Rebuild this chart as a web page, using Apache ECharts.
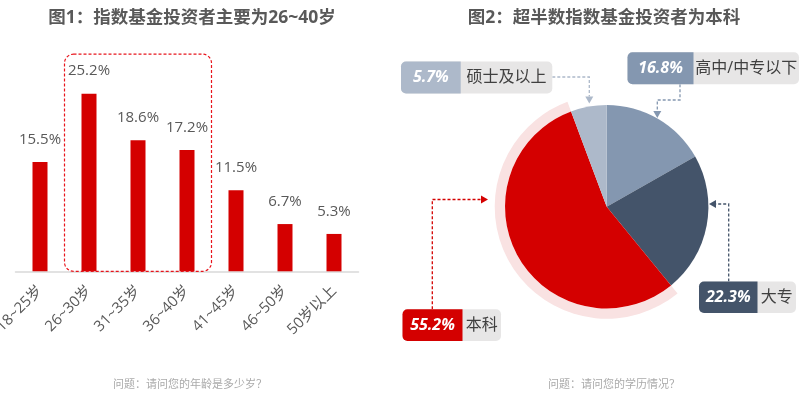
<!DOCTYPE html>
<html><head><meta charset="utf-8">
<script src="https://cdn.jsdelivr.net/npm/echarts@6/dist/echarts.min.js"></script>
<style>html,body{margin:0;padding:0;background:#fff}#c{width:804px;height:398px}</style>
</head><body><div id="c"></div>
<script>
// ---- data ----
const ageCategories = ['18~25岁','26~30岁','31~35岁','36~40岁','41~45岁','46~50岁','50岁以上'];
const ageValues = [15.5, 25.2, 18.6, 17.2, 11.5, 6.7, 5.3];
const highlightRange = [1, 3];           // 26~30 .. 36~40
const eduNames = ['高中/中专以下', '大专', '本科', '硕士及以上'];
const eduValues = [16.8, 22.3, 55.2, 5.7];
const titles = ['图1：指数基金投资者主要为26~40岁', '图2：超半数指数基金投资者为本科'];
const notes = ['问题：请问您的年龄是多少岁？', '问题：请问您的学历情况？'];

// ---- style ----
const RED = '#d40000';
const eduColors = ['#8497b0', '#44546a', RED, '#adb9ca'];
const FONT = "'Open Sans', 'Noto Sans CJK SC', sans-serif";
const pieCenter = [606.7, 206.7], pieR = 101.7;

// annotation layout (boxes + connectors) per education item
const annot = [
  {box:[627.5,52.3,171.5,32], split:66, line:[[680,84.3],[680,100],[657.3,100],[657.3,111]], tip:[657.3,118], dir:'down'},
  {box:[699,281.5,97,31.5], split:58.5, line:[[728.7,281.5],[728.7,204],[716,204]], tip:[709,204], dir:'left'},
  {box:[402.5,309.3,98.5,31.7], split:60, line:[[432.3,309.3],[432.3,199.5],[481,199.5]], tip:[488,199.5], dir:'right'},
  {box:[401,61.5,151.3,32], split:59.7, line:[[552.3,77],[589.3,77],[589.3,96.5]], tip:[589.3,103.5], dir:'down'}
];

const chart = echarts.init(document.getElementById('c'));

function arrowPts(t, d) {
  const [x, y] = t, L = 7, W = 4;
  if (d === 'down') return [[x, y], [x - W, y - L], [x + W, y - L]];
  if (d === 'left') return [[x, y], [x + L, y - W], [x + L, y + W]];
  return [[x, y], [x - L, y - W], [x - L, y + W]];
}

const annotGraphics = [];
eduNames.forEach((name, i) => {
  const a = annot[i], [bx, by, bw, bh] = a.box, col = eduColors[i];
  annotGraphics.push({type:'polyline', shape:{points:a.line}, style:{stroke:col, lineWidth:1.3, lineDash:[3,2], fill:null}, z:10});
  annotGraphics.push({type:'polygon', shape:{points:arrowPts(a.tip, a.dir)}, style:{fill:col}, z:10});
  annotGraphics.push({type:'rect', shape:{x:bx, y:by, width:bw, height:bh, r:5}, style:{fill:'#e7e6e6'}, z:10});
  annotGraphics.push({type:'rect', shape:{x:bx, y:by, width:a.split, height:bh, r:[5,0,0,5]}, style:{fill:col}, z:11});
  annotGraphics.push({type:'text', x:bx + a.split/2, y:by + bh/2, style:{text:eduValues[i].toFixed(1) + '%', fill:'#fff', fontStyle:'italic', fontWeight:'bold', fontSize:16, fontFamily:FONT, align:'center', verticalAlign:'middle'}, z:12});
  annotGraphics.push({type:'text', x:bx + a.split + (bw - a.split)/2, y:by + bh/2, style:{text:name, fill:'#404040', fontSize:16, fontFamily:FONT, align:'center', verticalAlign:'middle'}, z:12});
});

const option = {
  animation:false,
  backgroundColor:'#fff',
  title:[
    {text:titles[0], left:187, top:4, textAlign:'center', textStyle:{fontSize:17.5, fontWeight:'bold', color:'#595959', fontFamily:FONT}},
    {text:titles[1], left:599, top:4, textAlign:'center', textStyle:{fontSize:17.5, fontWeight:'bold', color:'#595959', fontFamily:FONT}},
    {text:notes[0], left:185, top:374, textAlign:'center', textStyle:{fontSize:11, fontWeight:'normal', color:'#aaaaaa', fontFamily:FONT}},
    {text:notes[1], left:609, top:374, textAlign:'center', textStyle:{fontSize:11, fontWeight:'normal', color:'#aaaaaa', fontFamily:FONT}}
  ],
  grid:{left:15.5, width:343, top:59.8, height:211.5, containLabel:false, outerBoundsMode:'none'},
  xAxis:{type:'category', data:ageCategories,
    axisLine:{lineStyle:{color:'#d9d9d9', width:1.5}}, axisTick:{show:false},
    axisLabel:{interval:0, rotate:45, margin:17, fontSize:15, color:'#595959', fontFamily:FONT}},
  yAxis:{type:'value', min:0, max:30, show:false, splitLine:{show:false}},
  series:[
    {type:'bar', data:ageValues, barWidth:15, itemStyle:{color:RED},
      label:{show:true, position:'top', distance:15, formatter:'{c}%', fontSize:15, color:'#595959', fontFamily:FONT}},
    {type:'pie', center:pieCenter, radius:[pieR, pieR + 10.3], startAngle:90, clockwise:true, silent:true, z:1,
      label:{show:false}, labelLine:{show:false},
      data:eduNames.map((n, i) => ({name:n, value:eduValues[i], itemStyle:{color: i === 2 ? '#f9e2e2' : 'rgba(0,0,0,0)'}}))},
    {type:'pie', center:pieCenter, radius:[0, pieR], startAngle:90, clockwise:true, silent:true, z:2,
      label:{show:false}, labelLine:{show:false},
      data:eduNames.map((n, i) => ({name:n, value:eduValues[i], itemStyle:{color:eduColors[i]}}))}
  ],
  graphic:annotGraphics
};
chart.setOption(option);

// highlight box around the 26~40 categories, derived from the axis scale
const c0 = chart.convertToPixel({xAxisIndex:0}, highlightRange[0]);
const c1 = chart.convertToPixel({xAxisIndex:0}, highlightRange[1]);
const band = chart.convertToPixel({xAxisIndex:0}, 1) - chart.convertToPixel({xAxisIndex:0}, 0);
const yTop = chart.convertToPixel({yAxisIndex:0}, 30.8);
const yBot = chart.convertToPixel({yAxisIndex:0}, 0);
annotGraphics.push({type:'rect', shape:{x:c0 - band/2, y:yTop, width:(c1 - c0) + band, height:yBot - yTop, r:9},
  style:{fill:null, stroke:'#e8141c', lineWidth:1.2, lineDash:[3,2]}, z:5});
chart.setOption({graphic:annotGraphics}, {replaceMerge:['graphic']});
</script></body></html>
